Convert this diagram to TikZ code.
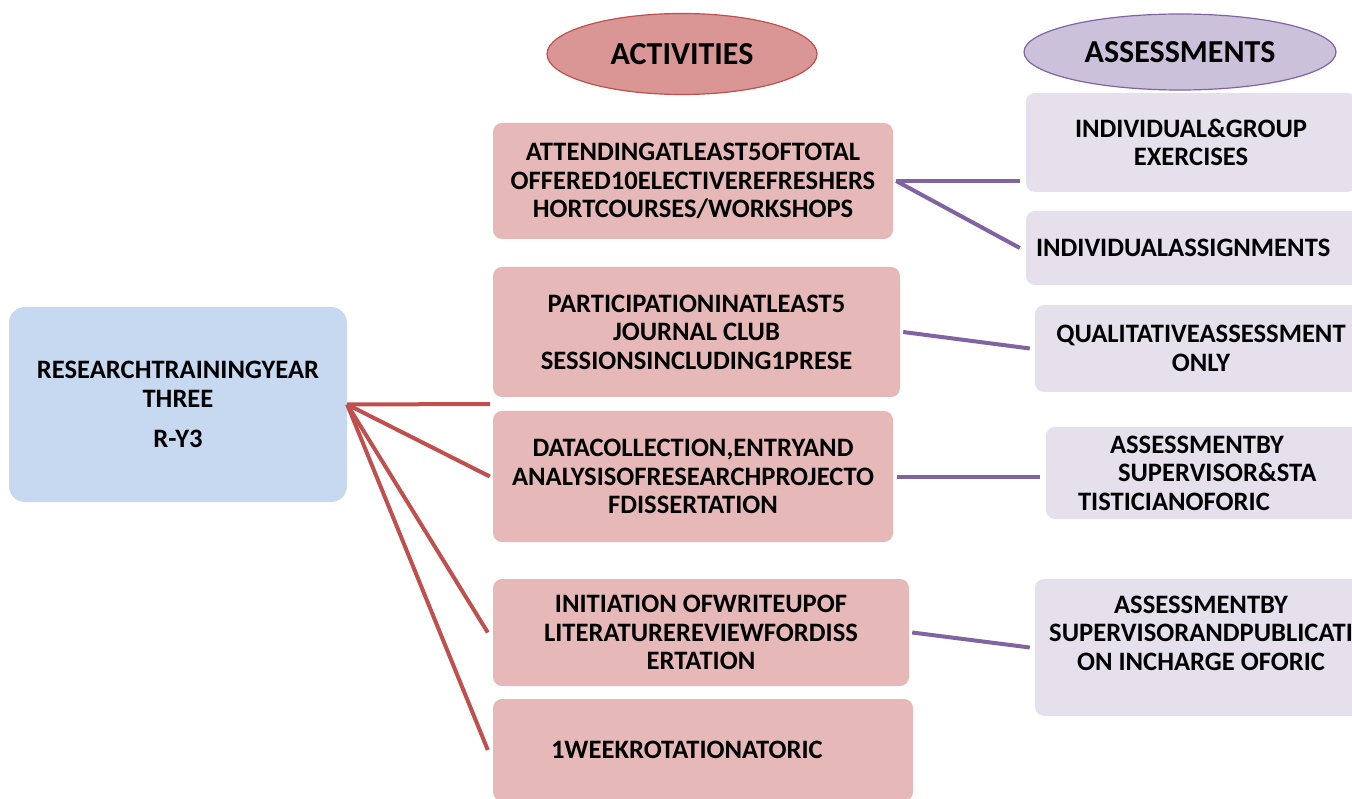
\documentclass[tikz,border=0pt]{standalone}
\usepackage{fontspec}
\setmainfont{Carlito}
\usetikzlibrary{shapes.geometric,calc}
\definecolor{redline}{HTML}{C0504D}
\definecolor{purpleline}{HTML}{8064A2}
\definecolor{bluefill}{HTML}{C6D9F1}
\definecolor{pinkfill}{HTML}{E6B9B8}
\definecolor{lilacfill}{HTML}{E5E0EC}
\definecolor{actfill}{HTML}{D99694}
\definecolor{assfill}{HTML}{CCC1DA}
\begin{document}
\begin{tikzpicture}[x=1pt,y=-1pt,
  boxtext/.style={font=\bfseries\fontsize{26.6}{28.6}\selectfont, align=center, inner sep=0pt},
  rootbox/.style={boxtext, fill=bluefill, rounded corners=16pt},
  actbox/.style={boxtext, fill=pinkfill, rounded corners=9pt},
  assbox/.style={boxtext, fill=lilacfill, rounded corners=9pt},
  header/.style={ellipse, line width=1.2pt, inner sep=0pt, font=\bfseries\fontsize{32}{36}\selectfont},
  redlink/.style={draw=redline, line width=4pt},
  purplelink/.style={draw=purpleline, line width=4pt},
]
\useasboundingbox (0,0) rectangle (1352,799);

% column headers
\node[header, draw=redline, fill=actfill, minimum width=270pt, minimum height=81pt] (acthead) at (682,54) {ACTIVITIES};
\node[header, draw=purpleline, fill=assfill, minimum width=312pt, minimum height=76pt] (asshead) at (1180,52) {ASSESSMENTS};

% programme
\node[rootbox, minimum width=338pt, minimum height=195pt] (root) at (178,404.5)
  {RESEARCHTRAININGYEAR\\THREE\\[12pt]R-Y3};

% activities
\node[actbox, minimum width=400pt, minimum height=116pt] (act1) at (693,181)
  {ATTENDINGATLEAST5OFTOTAL\\OFFERED10ELECTIVEREFRESHERS\\HORTCOURSES/WORKSHOPS};
\node[actbox, minimum width=407pt, minimum height=130pt] (act2) at (696.5,332)
  {PARTICIPATIONINATLEAST5\\JOURNAL CLUB\\SESSIONSINCLUDING1PRESE};
\node[actbox, minimum width=400pt, minimum height=131pt] (act3) at (693,476.5)
  {DATACOLLECTION,ENTRYAND\\ANALYSISOFRESEARCHPROJECTO\\FDISSERTATION};
\node[actbox, minimum width=416pt, minimum height=107pt] (act4) at (701,632.5)
  {INITIATION OFWRITEUPOF\\LITERATUREREVIEWFORDISS\\ERTATION};
\node[actbox, text width=420pt, align=left, minimum height=102pt] (act5) at (703,750)
  {\hspace*{58pt}1WEEKROTATIONATORIC};

% assessments
\node[assbox, minimum width=330pt, minimum height=99pt] (ass1) at (1191,142.5)
  {INDIVIDUAL\&GROUP\\EXERCISES};
\node[assbox, text width=316pt, inner xsep=10pt, align=left, minimum height=74pt] (ass2) at (1194,248)
  {INDIVIDUALASSIGNMENTS};
\node[assbox, minimum width=332pt, minimum height=87pt] (ass3) at (1201,348.5)
  {QUALITATIVEASSESSMENT\\ONLY};
\node[assbox, text width=316pt, align=left, minimum height=92pt] (ass4) at (1204,473)
  {\hspace*{64pt}ASSESSMENTBY\\\hspace*{72pt}SUPERVISOR\&STA\\\hspace*{32pt}TISTICIANOFORIC};
\node[assbox, minimum width=332pt, minimum height=137pt] (ass5) at (1201,647.5)
  {ASSESSMENTBY\\SUPERVISORANDPUBLICATI\\ON INCHARGE OFORIC\\ ~};

% programme to activities
\coordinate (fork) at (490,404);
\draw[redlink] (root.east) -- (fork);
\draw[redlink] (root.east) -- ([xshift=-3pt]act3.west);
\draw[redlink] (root.east) -- ([xshift=-5pt]act4.west);
\draw[redlink] (root.east) -- ([xshift=-5pt]act5.west);

% activities to assessments
\draw[purplelink] ([xshift=3pt]act1.east) -- ($(ass1.west |- act1.east)+(-6,0)$);
\draw[purplelink] ([xshift=3pt]act1.east) -- ([xshift=-6pt]ass2.west);
\draw[purplelink] ([xshift=3pt]act2.east) -- ([xshift=-5pt]ass3.west);
\draw[purplelink] ([xshift=4pt]act3.east) -- ($(ass4.west |- act3.east)+(-6,0)$);
\draw[purplelink] ([xshift=3pt]act4.east) -- ([xshift=-5pt]ass5.west);
\end{tikzpicture}
\end{document}
